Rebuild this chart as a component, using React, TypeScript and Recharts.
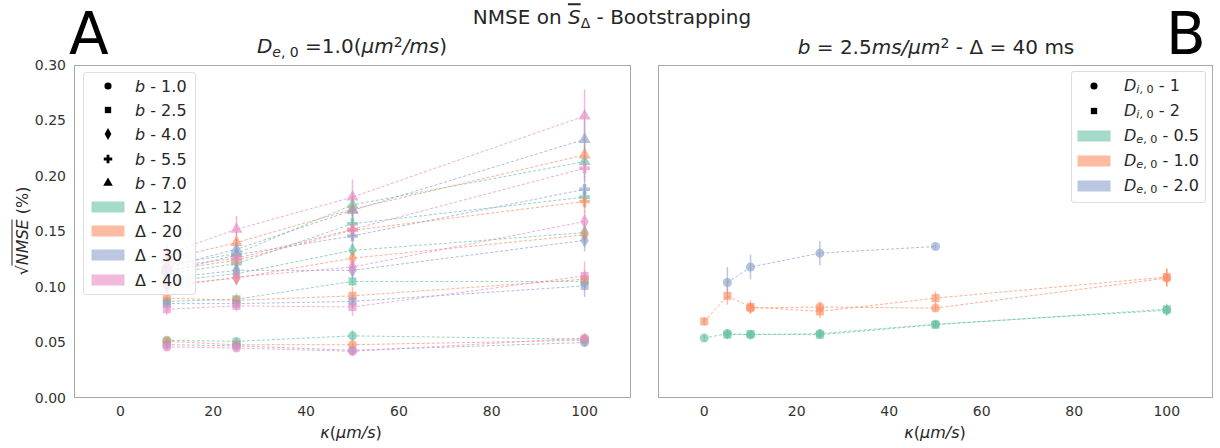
import React from 'react';
import { ScatterChart, Scatter, XAxis, YAxis, ZAxis, ErrorBar, Symbols } from 'recharts';

// Panel A: κ values, Δ rows (12, 20, 30, 40), one table per b
const KAPPA_A = [10, 25, 50, 100];
const DELTAS = [12, 20, 30, 40];
const B_VALUES = ['1.0', '2.5', '4.0', '5.5', '7.0'];

const nmseB1_0 = [
  [0.052, 0.051, 0.056, 0.053],
  [0.051, 0.048, 0.048, 0.052],
  [0.048, 0.047, 0.043, 0.050],
  [0.046, 0.045, 0.042, 0.054],
];
const nmseB2_5 = [
  [0.087, 0.089, 0.105, 0.105],
  [0.090, 0.088, 0.092, 0.107],
  [0.085, 0.085, 0.087, 0.101],
  [0.080, 0.083, 0.082, 0.110],
];
const nmseB4_0 = [
  [0.105, 0.112, 0.133, 0.149],
  [0.102, 0.108, 0.126, 0.147],
  [0.108, 0.115, 0.115, 0.142],
  [0.100, 0.109, 0.118, 0.159],
];
const nmseB5_5 = [
  [0.112, 0.121, 0.157, 0.181],
  [0.115, 0.124, 0.151, 0.177],
  [0.113, 0.129, 0.146, 0.188],
  [0.118, 0.126, 0.152, 0.207],
];
const nmseB7_0 = [
  [0.120, 0.130, 0.174, 0.213],
  [0.125, 0.140, 0.170, 0.219],
  [0.118, 0.134, 0.169, 0.233],
  [0.130, 0.152, 0.181, 0.254],
];

const errB1_0 = [
  [0.003, 0.003, 0.005, 0.003],
  [0.003, 0.003, 0.003, 0.003],
  [0.003, 0.003, 0.003, 0.004],
  [0.003, 0.003, 0.004, 0.004],
];
const errB2_5 = [
  [0.004, 0.005, 0.004, 0.006],
  [0.004, 0.004, 0.008, 0.008],
  [0.004, 0.004, 0.006, 0.010],
  [0.005, 0.005, 0.008, 0.013],
];
const errB4_0 = [
  [0.005, 0.005, 0.006, 0.008],
  [0.005, 0.006, 0.007, 0.008],
  [0.005, 0.006, 0.008, 0.010],
  [0.006, 0.006, 0.008, 0.010],
];
const errB5_5 = [
  [0.006, 0.006, 0.008, 0.010],
  [0.006, 0.006, 0.008, 0.010],
  [0.006, 0.007, 0.010, 0.012],
  [0.007, 0.008, 0.010, 0.012],
];
const errB7_0 = [
  [0.008, 0.009, 0.010, 0.014],
  [0.008, 0.010, 0.011, 0.015],
  [0.008, 0.010, 0.012, 0.018],
  [0.010, 0.012, 0.016, 0.024],
];

// Panel B: b = 2.5, Δ = 40
const KAPPA_B = [0, 5, 10, 25, 50, 100];
const nmseDe05Di1 = [0.054, 0.058, 0.057, 0.058, 0.0665, 0.079];
const nmseDe05Di2 = [null, 0.057, 0.0575, 0.057, 0.066, 0.080];
const nmseDe10Di1 = [null, null, 0.081, 0.082, 0.081, 0.108];
const nmseDe10Di2 = [0.069, 0.092, 0.082, 0.078, 0.090, 0.109];
const nmseDe20Di1 = [null, 0.104, 0.118, 0.1305, 0.1365, null];

const errDe05Di1 = [0.003, 0.004, 0.004, 0.004, 0.003, 0.005];
const errDe05Di2 = [null, 0.004, 0.004, 0.004, 0.003, 0.005];
const errDe10Di1 = [null, null, 0.005, 0.005, 0.003, 0.008];
const errDe10Di2 = [0.004, 0.008, 0.006, 0.006, 0.006, 0.008];
const errDe20Di1 = [null, 0.014, 0.011, 0.011, 0.002, null];

const Y_TICKS = [0, 0.05, 0.1, 0.15, 0.2, 0.25, 0.3];
const X_TICKS = [0, 20, 40, 60, 80, 100];

const SET2 = ['#66c2a5', '#fc8d62', '#8da0cb', '#e78ac3'];
const B_SHAPES = ['circle', 'square', 'diamond', 'cross', 'triangle'];
const FONT = '"DejaVu Sans", sans-serif';
const TXT = '#262626';

const toPoints = (xs: number[], ys: (number | null)[], es: (number | null)[]) =>
  xs.map((x, i) => ({ x, y: ys[i], e: es[i] })).filter(p => p.y != null);

const tablesA = [nmseB1_0, nmseB2_5, nmseB4_0, nmseB5_5, nmseB7_0];
const errTablesA = [errB1_0, errB2_5, errB4_0, errB5_5, errB7_0];

const seriesA = DELTAS.flatMap((d, di) =>
  B_VALUES.map((b, bi) => ({
    key: `A-${d}-${b}`,
    color: SET2[di],
    shape: B_SHAPES[bi],
    data: toPoints(KAPPA_A, tablesA[bi][di], errTablesA[bi][di]),
  })),
);

const seriesB = [
  { key: 'de05-1', color: SET2[0], shape: 'circle', data: toPoints(KAPPA_B, nmseDe05Di1, errDe05Di1) },
  { key: 'de05-2', color: SET2[0], shape: 'square', data: toPoints(KAPPA_B, nmseDe05Di2, errDe05Di2) },
  { key: 'de10-1', color: SET2[1], shape: 'circle', data: toPoints(KAPPA_B, nmseDe10Di1, errDe10Di1) },
  { key: 'de10-2', color: SET2[1], shape: 'square', data: toPoints(KAPPA_B, nmseDe10Di2, errDe10Di2) },
  { key: 'de20-1', color: SET2[2], shape: 'circle', data: toPoints(KAPPA_B, nmseDe20Di1, errDe20Di1) },
];

const tickStyle = { fill: '#333', fontSize: 14, fontFamily: FONT };

const renderSeries = (s: any) => (
  <Scatter
    key={s.key}
    data={s.data}
    fill={s.color}
    fillOpacity={0.65}
    shape={s.shape}
    line={{ stroke: s.color, strokeOpacity: 0.7, strokeWidth: 1, strokeDasharray: '3 2' }}
    lineType="joint"
    isAnimationActive={false}
  >
    <ErrorBar dataKey="e" direction="y" width={0} stroke={s.color} strokeOpacity={0.6} strokeWidth={1.5} />
  </Scatter>
);

const abs = (style: React.CSSProperties): React.CSSProperties => ({ position: 'absolute', whiteSpace: 'nowrap', ...style });
const centered = (x: number, y: number, size: number, extra: React.CSSProperties = {}): React.CSSProperties =>
  abs({ left: x, top: y, fontSize: size, transform: 'translate(-50%, -50%)', color: TXT, ...extra });

const Marker = ({ type }: { type: string }) => (
  <svg width={14} height={14} style={{ display: 'block' }}>
    <Symbols cx={7} cy={7} type={type as any} size={40} fill="#000" />
  </svg>
);

const Patch = ({ color }: { color: string }) => (
  <div style={{ width: 33, height: 11, background: color, opacity: 0.6 }} />
);

const LegendRow = ({ icon, label, top, iconX, textX }: any) => (
  <div style={abs({ left: 0, top, height: 24, width: '100%' })}>
    <div style={abs({ left: iconX, top: 12, transform: 'translate(-50%, -50%)' })}>{icon}</div>
    <div style={abs({ left: textX, top: 12, transform: 'translateY(-50%)', fontSize: 16, color: TXT })}>{label}</div>
  </div>
);

const Sub = ({ children }: any) => <sub style={{ fontSize: '0.7em', verticalAlign: '-0.25em' }}>{children}</sub>;
const Sup = ({ children }: any) => <sup style={{ fontSize: '0.7em', verticalAlign: '0.45em' }}>{children}</sup>;

export default function App() {
  return (
    <div style={abs({ left: 0, top: 0, width: 1220, height: 448, background: '#fff', fontFamily: FONT, overflow: 'hidden' })}>
      {/* Panel A */}
      <div style={abs({ left: 0, top: 0 })}>
        <ScatterChart width={640} height={448} margin={{ top: 65, right: 9, bottom: 20, left: 14 }}>
          <XAxis type="number" dataKey="x" domain={[-10, 110]} ticks={X_TICKS} axisLine={false} tickLine={false} tick={tickStyle} height={30} allowDataOverflow />
          <YAxis type="number" dataKey="y" domain={[0, 0.3]} ticks={Y_TICKS} tickFormatter={(v: number) => v.toFixed(2)} width={60} axisLine={false} tickLine={false} tick={tickStyle} allowDataOverflow />
          <ZAxis range={[55, 55]} />
          {seriesA.map(renderSeries)}
        </ScatterChart>
      </div>
      <div style={abs({ left: 74, top: 65, width: 557, height: 333, border: '1.5px solid #a8a8a8', boxSizing: 'border-box', pointerEvents: 'none' })} />

      {/* Panel B */}
      <div style={abs({ left: 640, top: 0 })}>
        <ScatterChart width={580} height={448} margin={{ top: 65, right: 7, bottom: 20, left: 18 }}>
          <XAxis type="number" dataKey="x" domain={[-10, 110]} ticks={X_TICKS} axisLine={false} tickLine={false} tick={tickStyle} height={30} allowDataOverflow />
          <YAxis type="number" dataKey="y" domain={[0, 0.3]} ticks={Y_TICKS} hide allowDataOverflow />
          <ZAxis range={[55, 55]} />
          {seriesB.map(renderSeries)}
        </ScatterChart>
      </div>
      <div style={abs({ left: 658, top: 65, width: 555, height: 333, border: '1.5px solid #a8a8a8', boxSizing: 'border-box', pointerEvents: 'none' })} />

      {/* Legend A */}
      <div style={abs({ left: 83, top: 72, width: 113, height: 223, background: 'rgba(255,255,255,0.8)', border: '1px solid #ddd', borderRadius: 3, boxSizing: 'border-box' })}>
        {B_VALUES.map((b, i) => (
          <LegendRow key={b} top={1 + i * 24.2} iconX={24} textX={51} icon={<Marker type={B_SHAPES[i]} />} label={<span><i>b</i> - {b}</span>} />
        ))}
        {DELTAS.map((d, i) => (
          <LegendRow key={d} top={1 + (i + 5) * 24.2} iconX={24} textX={51} icon={<Patch color={SET2[i]} />} label={<span>Δ - {d}</span>} />
        ))}
      </div>

      {/* Legend B */}
      <div style={abs({ left: 1071, top: 71, width: 135, height: 132, background: 'rgba(255,255,255,0.8)', border: '1px solid #ddd', borderRadius: 3, boxSizing: 'border-box' })}>
        {['1', '2'].map((d, i) => (
          <LegendRow key={d} top={2 + i * 25} iconX={22} textX={52} icon={<Marker type={i === 0 ? 'circle' : 'square'} />} label={<span><i>D</i><Sub><i>i</i>, 0</Sub> - {d}</span>} />
        ))}
        {['0.5', '1.0', '2.0'].map((d, i) => (
          <LegendRow key={d} top={2 + (i + 2) * 25} iconX={22} textX={52} icon={<Patch color={SET2[i]} />} label={<span><i>D</i><Sub><i>e</i>, 0</Sub> - {d}</span>} />
        ))}
      </div>

      {/* Titles and labels */}
      <div style={centered(612, 18, 20)}>NMSE on <i style={{ textDecoration: 'overline' }}>S</i><Sub>Δ</Sub> - Bootstrapping</div>
      <div style={centered(352, 47, 20)}><i>D</i><Sub><i>e</i>, 0</Sub> =1.0(<i>μm</i><Sup>2</Sup><i>/ms</i>)</div>
      <div style={centered(936, 47, 20)}><i>b</i> = 2.5<i>ms/μm</i><Sup>2</Sup> - Δ = 40 ms</div>
      <div style={centered(351, 432, 16)}><i>κ</i>(<i>μm/s</i>)</div>
      <div style={centered(935, 432, 16)}><i>κ</i>(<i>μm/s</i>)</div>
      <div style={centered(22, 231, 16, { transform: 'translate(-50%, -50%) rotate(-90deg)' })}>
        √<i style={{ borderTop: '1px solid #262626' }}>NMSE</i> (%)
      </div>
      <div style={abs({ left: 69, top: 0, fontSize: 58, color: '#000', lineHeight: 'normal' })}>A</div>
      <div style={abs({ left: 1166, top: 0, fontSize: 58, color: '#000', lineHeight: 'normal' })}>B</div>
    </div>
  );
}
